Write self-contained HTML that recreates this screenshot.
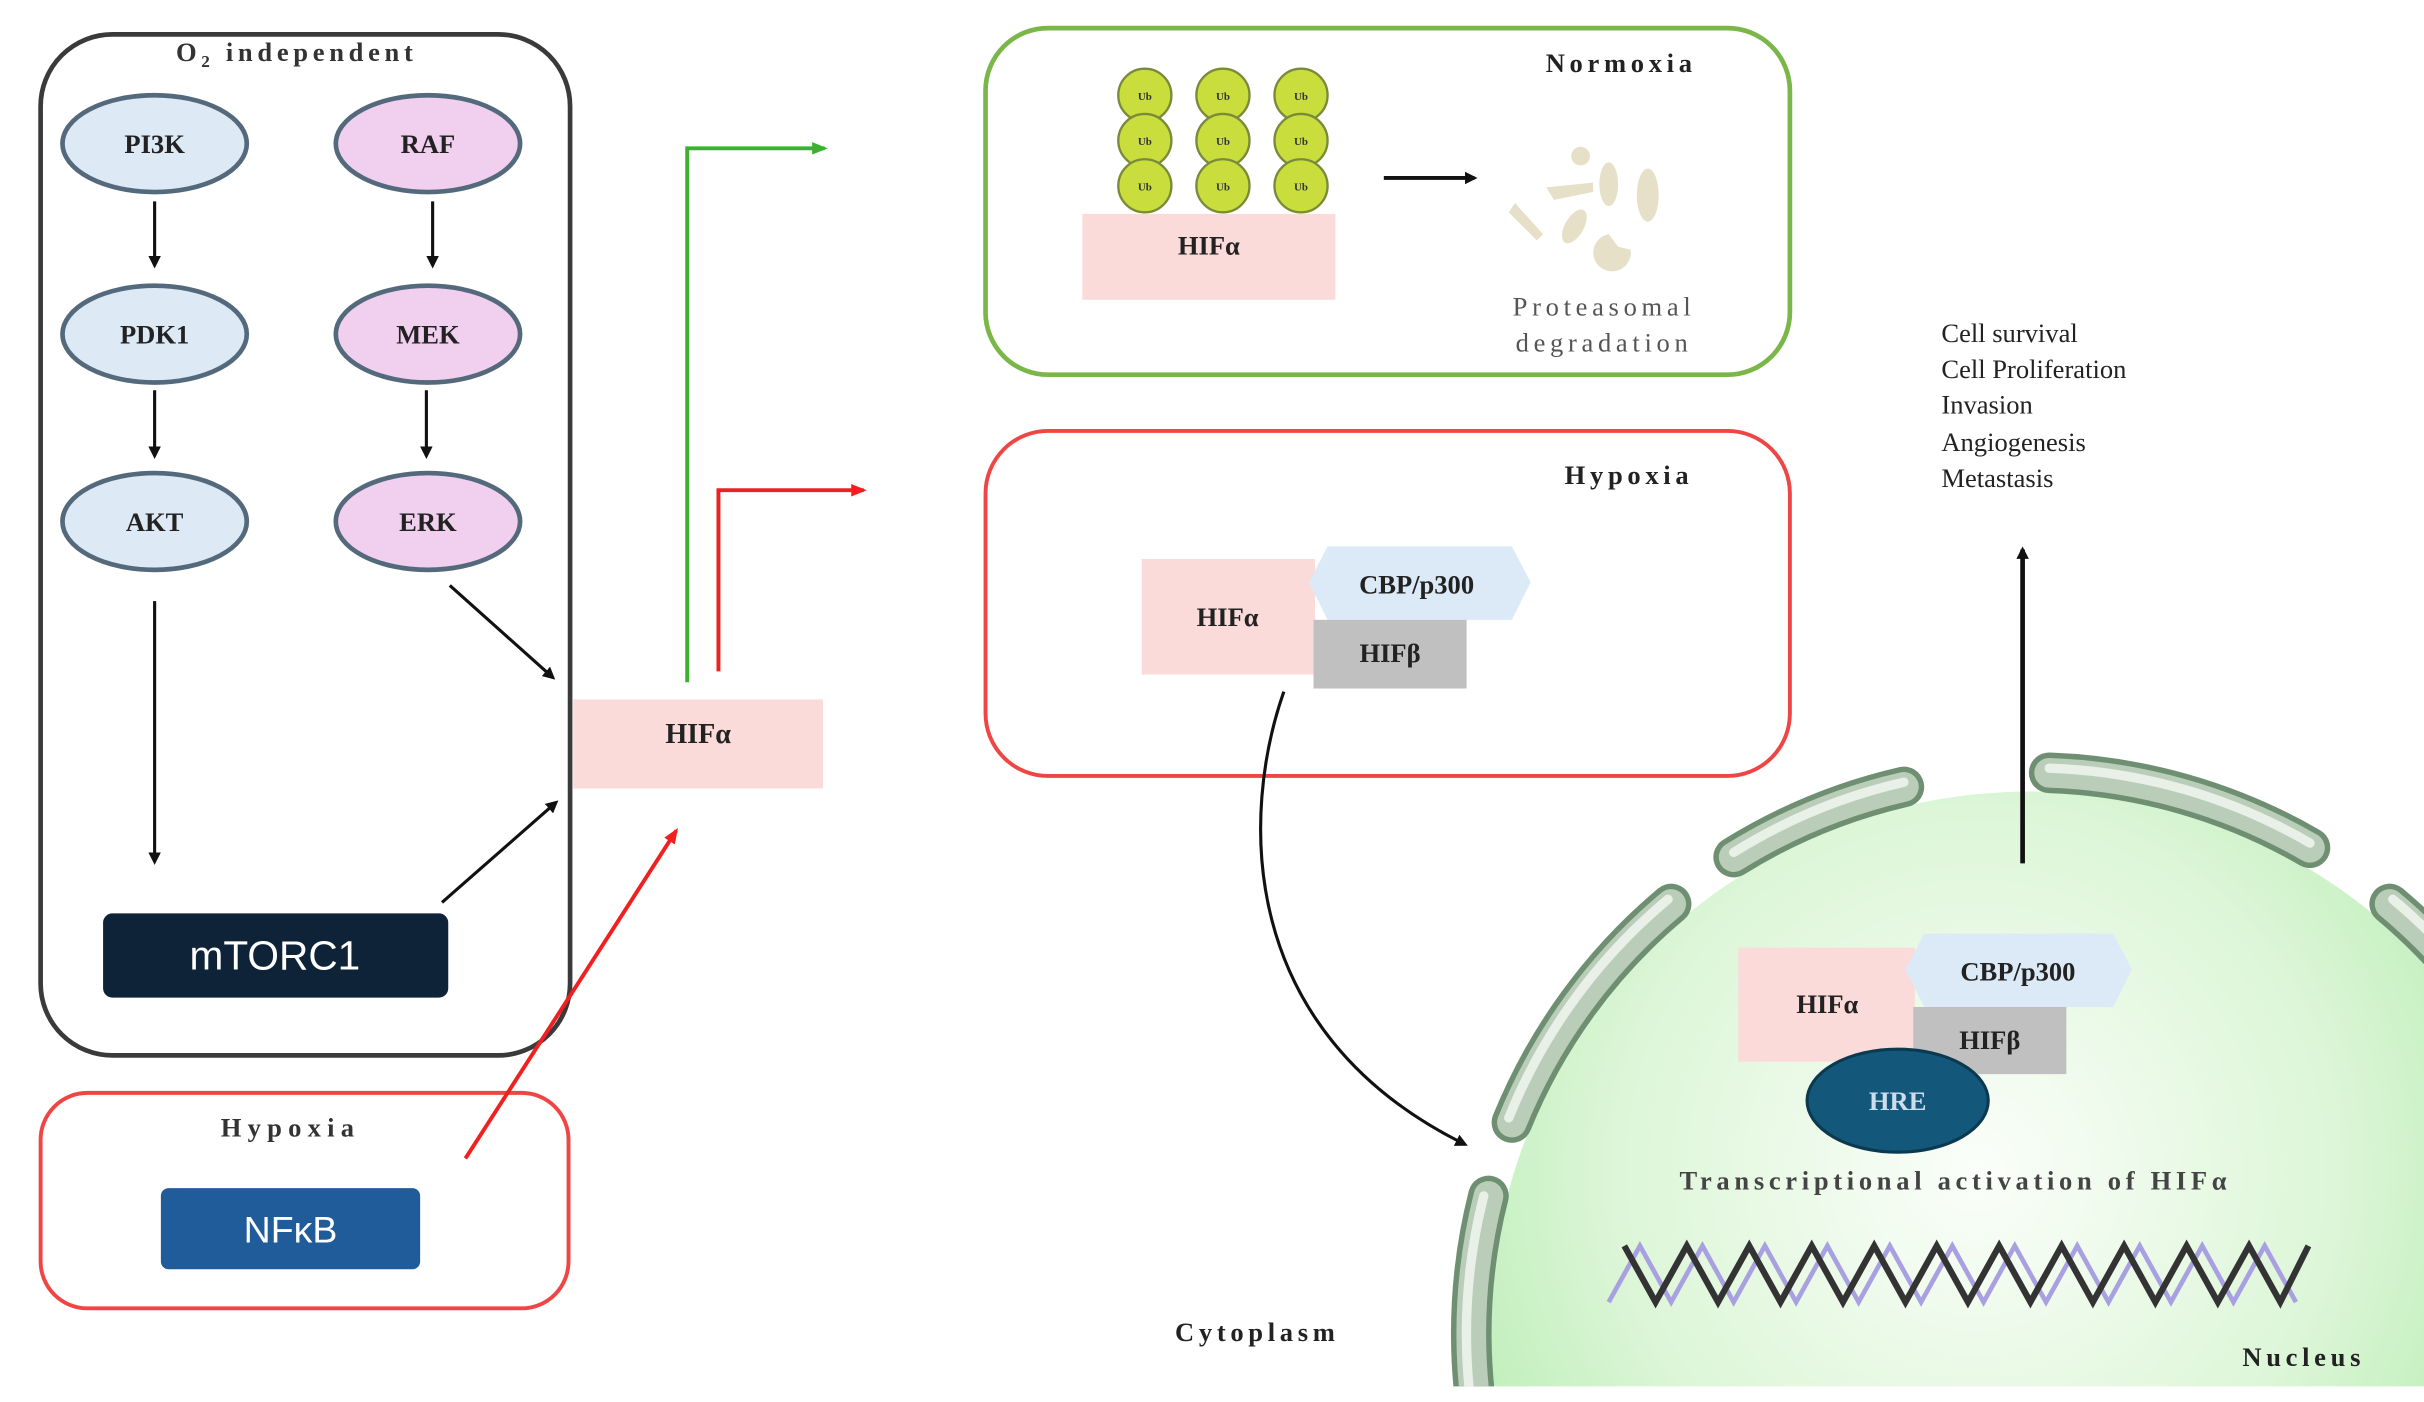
<!DOCTYPE html>
<html><head><meta charset="utf-8"><style>
html,body{margin:0;padding:0;background:#fff;width:2424px;height:1402px;overflow:hidden;}
svg{display:block;}
.ser{font-family:"Liberation Serif",serif;font-weight:bold;}
.reg{font-family:"Liberation Serif",serif;font-weight:normal;}
.sans{font-family:"Liberation Sans",sans-serif;}
</style></head><body>
<svg width="2424" height="1402" viewBox="0 0 1552 898" preserveAspectRatio="none" xmlns="http://www.w3.org/2000/svg">
<defs>
<marker id="ak" markerWidth="8" markerHeight="8" refX="6" refY="4" orient="auto" markerUnits="userSpaceOnUse"><path d="M0,0 L8,4 L0,8 z" fill="#111"/></marker>
<marker id="ag" markerWidth="10" markerHeight="8" refX="8" refY="4" orient="auto" markerUnits="userSpaceOnUse"><path d="M0,0 L10,4 L0,8 z" fill="#3cb030"/></marker>
<marker id="ar" markerWidth="10" markerHeight="8" refX="8" refY="4" orient="auto" markerUnits="userSpaceOnUse"><path d="M0,0 L10,4 L0,8 z" fill="#f02020"/></marker>
<radialGradient id="nuc" cx="0.45" cy="0.35" r="0.6"><stop offset="0" stop-color="#fbfefa"/><stop offset="0.55" stop-color="#ddf6d8"/><stop offset="1" stop-color="#b0eaab"/></radialGradient>
<clipPath id="clipb"><rect x="0" y="0" width="1552" height="888"/></clipPath>
</defs>
<rect width="1552" height="898" fill="#fff"/>

<rect x="26" y="22" width="339" height="654" rx="46" fill="none" stroke="#3a3a3a" stroke-width="3"/>
<rect x="82" y="24" width="215" height="22" fill="#fff"/>
<text x="190" y="39" class="ser" font-size="17" text-anchor="middle" letter-spacing="3" fill="#333">O<tspan font-size="11" dy="4">2</tspan><tspan dy="-4"> independent</tspan></text>

<g class="ser" font-size="17" text-anchor="middle" fill="#222">
<ellipse cx="99" cy="92" rx="59" ry="31" fill="#dde9f5" stroke="#546a7c" stroke-width="3"/><text x="99" y="98">PI3K</text>
<ellipse cx="99" cy="214" rx="59" ry="31" fill="#dde9f5" stroke="#546a7c" stroke-width="3"/><text x="99" y="220">PDK1</text>
<ellipse cx="99" cy="334" rx="59" ry="31" fill="#dde9f5" stroke="#546a7c" stroke-width="3"/><text x="99" y="340">AKT</text>
<ellipse cx="274" cy="92" rx="59" ry="31" fill="#f0d0ee" stroke="#546a7c" stroke-width="3"/><text x="274" y="98">RAF</text>
<ellipse cx="274" cy="214" rx="59" ry="31" fill="#f0d0ee" stroke="#546a7c" stroke-width="3"/><text x="274" y="220">MEK</text>
<ellipse cx="274" cy="334" rx="59" ry="31" fill="#f0d0ee" stroke="#546a7c" stroke-width="3"/><text x="274" y="340">ERK</text>
</g>
<g stroke="#111" stroke-width="2" marker-end="url(#ak)">
<line x1="99" y1="129" x2="99" y2="170"/>
<line x1="99" y1="250" x2="99" y2="292"/>
<line x1="277" y1="129" x2="277" y2="170"/>
<line x1="273" y1="250" x2="273" y2="292"/>
<line x1="99" y1="385" x2="99" y2="552"/>
<line x1="288" y1="375" x2="354" y2="434"/>
<line x1="283" y1="578" x2="356" y2="514"/>
</g>
<rect x="66" y="585" width="221" height="54" rx="6" fill="#0e2238"/>
<text x="176" y="621" class="sans" font-size="26" fill="#fff" text-anchor="middle">mTORC1</text>

<rect x="26" y="700" width="338" height="138" rx="30" fill="none" stroke="#f04545" stroke-width="2.5"/>
<text x="186" y="728" class="ser" font-size="17" text-anchor="middle" letter-spacing="4" fill="#333">Hypoxia</text>
<rect x="103" y="761" width="166" height="52" rx="5" fill="#1f5c99"/>
<text x="186" y="796" class="sans" font-size="24" fill="#fff" text-anchor="middle">NFκB</text>

<rect x="367" y="448" width="160" height="57" fill="#fbdada"/>
<text x="447" y="476" class="ser" font-size="18" text-anchor="middle" fill="#222">HIFα</text>
<polyline points="440,437 440,95 528,95" fill="none" stroke="#3cb030" stroke-width="2.5" marker-end="url(#ag)"/>
<polyline points="460,430 460,314 553,314" fill="none" stroke="#f02020" stroke-width="2.5" marker-end="url(#ar)"/>
<line x1="298" y1="742" x2="433" y2="532" stroke="#f02020" stroke-width="2.5" marker-end="url(#ar)"/>

<rect x="631" y="18" width="515" height="222" rx="40" fill="none" stroke="#7ab648" stroke-width="3"/>
<text x="1038" y="46" class="ser" font-size="17" text-anchor="middle" letter-spacing="3" fill="#222">Normoxia</text>
<rect x="693" y="137" width="162" height="55" fill="#fbdada"/>
<text x="774" y="163" class="ser" font-size="17" text-anchor="middle" fill="#222">HIFα</text>
<g fill="#c9dd3c" stroke="#7a8a3a" stroke-width="1.5">
<circle cx="733" cy="61" r="17"/><circle cx="733" cy="90" r="17"/><circle cx="733" cy="119" r="17"/>
<circle cx="783" cy="61" r="17"/><circle cx="783" cy="90" r="17"/><circle cx="783" cy="119" r="17"/>
<circle cx="833" cy="61" r="17"/><circle cx="833" cy="90" r="17"/><circle cx="833" cy="119" r="17"/>
</g>
<g class="ser" font-size="7" text-anchor="middle" fill="#333">
<text x="733" y="64">Ub</text><text x="733" y="93">Ub</text><text x="733" y="122">Ub</text>
<text x="783" y="64">Ub</text><text x="783" y="93">Ub</text><text x="783" y="122">Ub</text>
<text x="833" y="64">Ub</text><text x="833" y="93">Ub</text><text x="833" y="122">Ub</text>
</g>
<line x1="886" y1="114" x2="944" y2="114" stroke="#111" stroke-width="2.5" marker-end="url(#ak)"/>
<g fill="#e6e0c8">
<circle cx="1012" cy="100" r="6"/>
<path d="M990 120 L1020 117 L1020 123 L995 128 Z"/>
<path d="M970 130 L988 150 L984 154 L966 136 Z"/>
<ellipse cx="1030" cy="118" rx="6" ry="14"/>
<ellipse cx="1055" cy="125" rx="7" ry="17"/>
<ellipse cx="1008" cy="145" rx="6" ry="12" transform="rotate(30 1008 145)"/>
<path d="M1030 150 a12 12 0 1 0 14 10 l-8 -2 z"/>
</g>
<text x="1027" y="202" class="reg" font-size="17" text-anchor="middle" letter-spacing="3" fill="#555">Proteasomal</text>
<text x="1027" y="225" class="reg" font-size="17" text-anchor="middle" letter-spacing="3" fill="#555">degradation</text>

<rect x="631" y="276" width="515" height="221" rx="40" fill="none" stroke="#f04545" stroke-width="2.5"/>
<text x="1043" y="310" class="ser" font-size="17" text-anchor="middle" letter-spacing="3" fill="#222">Hypoxia</text>
<rect x="731" y="358" width="111" height="74" fill="#fbdada"/>
<polygon points="850,350 968,350 980,373 968,397 850,397 838,373" fill="#dce9f7"/>
<rect x="841" y="397" width="98" height="44" fill="#c0c0c0"/>
<g class="ser" font-size="17" text-anchor="middle" fill="#222">
<text x="786" y="401">HIFα</text><text x="907" y="380">CBP/p300</text><text x="890" y="424">HIFβ</text>
</g>
<path d="M822 443 C 795 520, 790 660, 938 733" fill="none" stroke="#111" stroke-width="2" marker-end="url(#ak)"/>

<g class="reg" font-size="17" fill="#222">
<text x="1243" y="219">Cell survival</text>
<text x="1243" y="242">Cell Proliferation</text>
<text x="1243" y="265">Invasion</text>
<text x="1243" y="289">Angiogenesis</text>
<text x="1243" y="312">Metastasis</text>
</g>

<g clip-path="url(#clipb)">
<circle cx="1300" cy="853" r="346" fill="url(#nuc)"/>
<g fill="none" stroke-linecap="round">
<g stroke="#6f8f72" stroke-width="26">
<path d="M1110 549 A358 358 0 0 1 1219 504"/>
<path d="M1312 495 A358 358 0 0 1 1479 543"/>
<path d="M968 719 A358 358 0 0 1 1070 579"/>
<path d="M953 766 A358 358 0 0 0 954 946"/>
<path d="M1530 579 A358 358 0 0 1 1610 674"/>
</g>
<g stroke="#b9cdb9" stroke-width="19">
<path d="M1110 549 A358 358 0 0 1 1219 504"/>
<path d="M1312 495 A358 358 0 0 1 1479 543"/>
<path d="M968 719 A358 358 0 0 1 1070 579"/>
<path d="M953 766 A358 358 0 0 0 954 946"/>
<path d="M1530 579 A358 358 0 0 1 1610 674"/>
</g>
<g stroke="#e8f0e8" stroke-width="6">
<path d="M1110 546 A355 355 0 0 1 1219 501"/>
<path d="M1312 492 A355 355 0 0 1 1479 540"/>
<path d="M966 716 A355 355 0 0 1 1068 576"/>
<path d="M950 766 A355 355 0 0 0 951 946"/>
<path d="M1532 576 A355 355 0 0 1 1612 671"/>
</g>
</g>
</g>
<line x1="1295" y1="553" x2="1295" y2="352" stroke="#111" stroke-width="3" marker-end="url(#ak)"/>

<rect x="1113" y="607" width="113" height="73" fill="#fbdada"/>
<polygon points="1232,598 1353,598 1365,621 1353,645 1232,645 1220,621" fill="#dce9f7"/>
<rect x="1225" y="645" width="98" height="43" fill="#c0c0c0"/>
<ellipse cx="1215" cy="705" rx="58" ry="33" fill="#13587a" stroke="#0b3a50" stroke-width="2"/>
<g class="ser" font-size="17" text-anchor="middle" fill="#222">
<text x="1170" y="649">HIFα</text><text x="1292" y="628">CBP/p300</text><text x="1274" y="672">HIFβ</text>
<text x="1215" y="711" fill="#cde">HRE</text>
</g>
<text x="1252" y="762" class="ser" font-size="17" text-anchor="middle" letter-spacing="3" fill="#444">Transcriptional activation of HIFα</text>
<path d="M1030 834 L1050 798 L1070 834 L1090 798 L1110 834 L1130 798 L1150 834 L1170 798 L1190 834 L1210 798 L1230 834 L1250 798 L1270 834 L1290 798 L1310 834 L1330 798 L1350 834 L1370 798 L1390 834 L1410 798 L1430 834 L1450 798 L1470 834" fill="none" stroke="#a8a0e0" stroke-width="3"/>
<path d="M1040 798 L1060 834 L1080 798 L1100 834 L1120 798 L1140 834 L1160 798 L1180 834 L1200 798 L1220 834 L1240 798 L1260 834 L1280 798 L1300 834 L1320 798 L1340 834 L1360 798 L1380 834 L1400 798 L1420 834 L1440 798 L1460 834 L1478 798" fill="none" stroke="#333" stroke-width="4"/>
<text x="1475" y="875" class="ser" font-size="17" text-anchor="middle" letter-spacing="3" fill="#222">Nucleus</text>
<text x="805" y="859" class="ser" font-size="17" text-anchor="middle" letter-spacing="3" fill="#222">Cytoplasm</text>
</svg>
</body></html>
